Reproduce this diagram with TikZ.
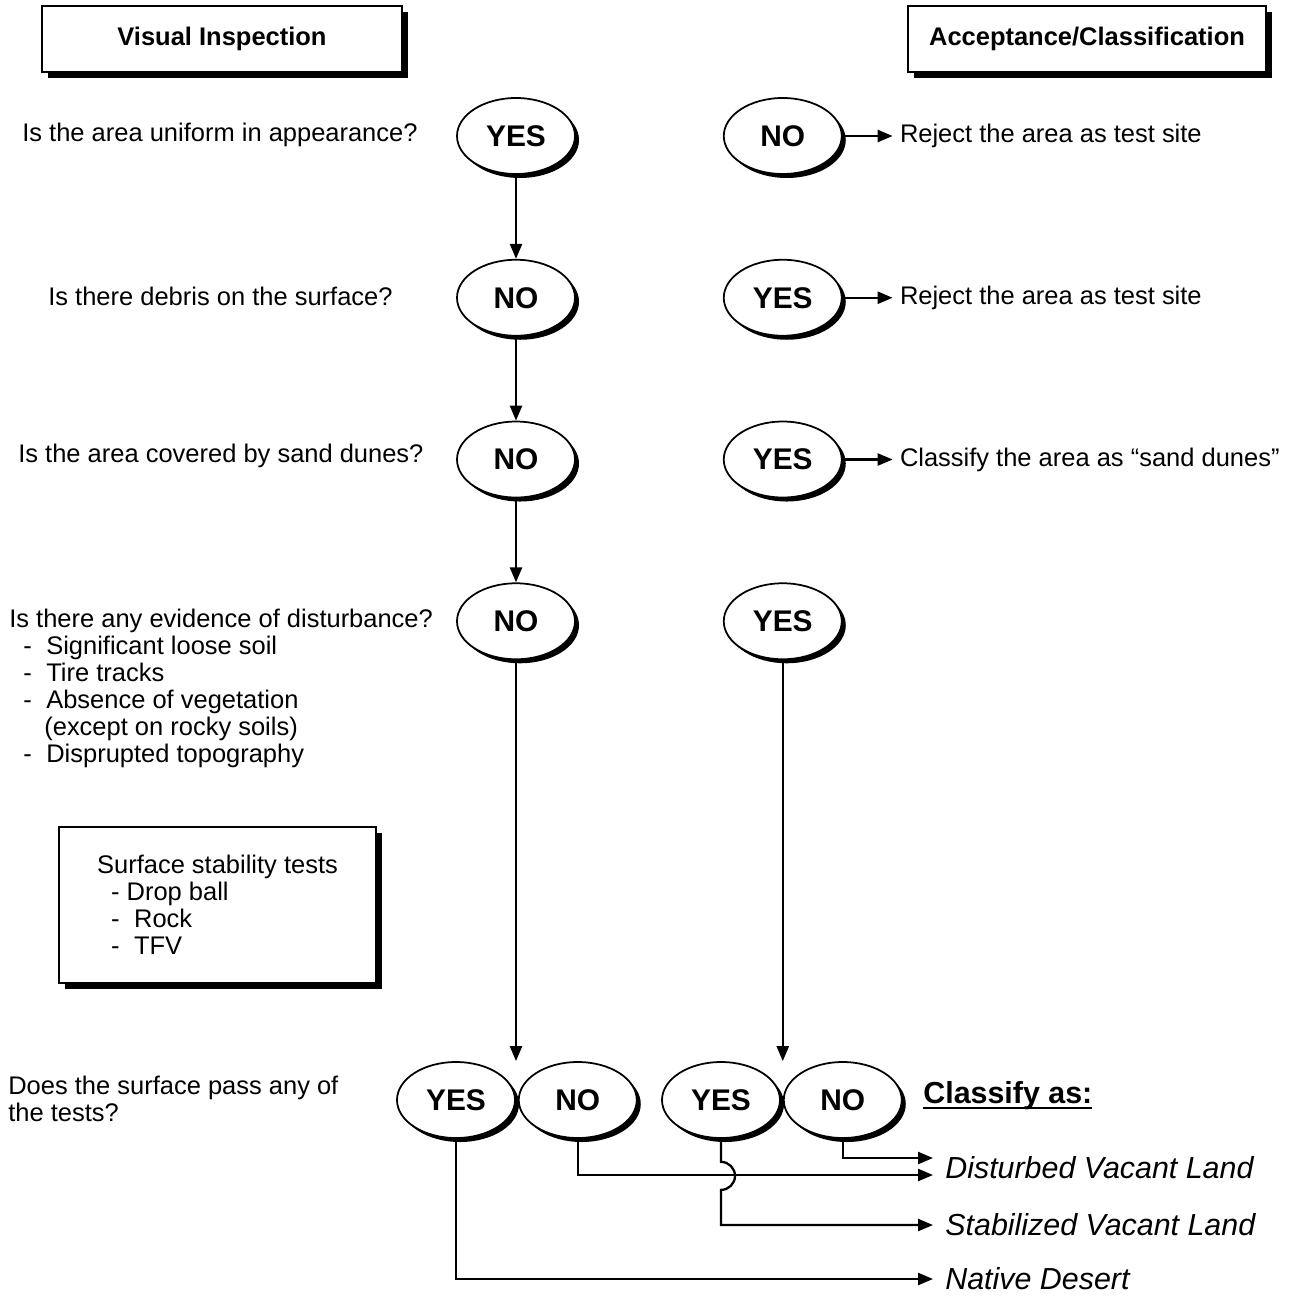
\documentclass[tikz,border=0pt]{standalone}
\usepackage{fontspec}
\setmainfont{Liberation Sans}
\usetikzlibrary{shapes,arrows,arrows.meta,positioning,calc,shadows}

\newcommand{\classul}[1]{\setbox0\hbox{#1}\rlap{\rule[-0.16em]{\wd0}{0.065em}}\box0}

\begin{document}
\begin{tikzpicture}[
    every node/.style={font=\fontsize{14.5}{15.4}\selectfont, inner sep=0pt},
    header/.style={rectangle, draw=black, line width=1.1pt, minimum height=1.32cm, fill=white, font=\fontsize{14.5}{15.4}\selectfont\bfseries, drop shadow={shadow xshift=0.12cm, shadow yshift=-0.12cm, opacity=1, fill=black}},
    answer/.style={ellipse, draw=black, line width=1pt, minimum width=2.36cm, minimum height=1.52cm, fill=white, font=\fontsize{17}{18}\selectfont\bfseries, drop shadow={shadow xshift=0.08cm, shadow yshift=-0.08cm, opacity=1, fill=black}},
    result/.style={inner xsep=0.14cm},
    landuse/.style={inner xsep=0.24cm, font=\fontsize{17.3}{18}\selectfont\itshape},
    arrow/.style={line width=1.3pt,->,>={Triangle[length=0.3cm,width=0.24cm]}}
]
\useasboundingbox (0,0) rectangle (25.82,-26.02);

\node[header, minimum width=7.2cm] (visual) at (4.44,-0.78) {Visual Inspection};
\node[header, minimum width=7.16cm] (accept) at (21.74,-0.78) {Acceptance/Classification};

% questions
\node[anchor=west] (quniform) at (0.44,-2.7) {Is the area uniform in appearance?};
\node[anchor=west] (qdebris) at (0.96,-5.92) {Is there debris on the surface?};
\node[anchor=west] (qdunes) at (0.36,-9.12) {Is the area covered by sand dunes?};
\node[anchor=north west, align=left] (qdisturb) at (0.18,-12.17) {Is there any evidence of disturbance?\\
\hspace*{0.28cm}-\hspace*{0.29cm}Significant loose soil\\
\hspace*{0.28cm}-\hspace*{0.29cm}Tire tracks\\
\hspace*{0.28cm}-\hspace*{0.29cm}Absence of vegetation\\
\hspace*{0.7cm}(except on rocky soils)\\
\hspace*{0.28cm}-\hspace*{0.29cm}Disprupted topography};
\node[header, font=\fontsize{14.5}{15.4}\selectfont, minimum width=6.34cm, minimum height=3.12cm, align=left] (tests) at (4.35,-18.1) {Surface stability tests\\
\hspace*{0.28cm}- Drop ball\\
\hspace*{0.28cm}-\hspace*{0.29cm}Rock\\
\hspace*{0.28cm}-\hspace*{0.29cm}TFV};
\node[anchor=west, align=left] (qpass) at (0.16,-21.98) {Does the surface pass any of\\the tests?};

% answers
\node[answer] (uniyes) at (10.32,-2.72) {YES};
\node[answer, below=1.68cm of uniyes] (debrisno) {NO};
\node[answer, below=1.68cm of debrisno] (duneno) {NO};
\node[answer, below=1.68cm of duneno] (disturbno) {NO};
\node[answer, right=2.94cm of uniyes] (unino) {NO};
\node[answer, right=2.94cm of debrisno] (debrisyes) {YES};
\node[answer, right=2.94cm of duneno] (duneyes) {YES};
\node[answer, right=2.94cm of disturbno] (disturbyes) {YES};

\node[result, right=1cm of unino] (rejectuni) {Reject the area as test site};
\node[result, right=1cm of debrisyes] (rejectdebris) {Reject the area as test site};
\node[result, right=1cm of duneyes] (dunes) {Classify the area as “sand dunes”};

% tests
\node[answer] (passyes) at (9.12,-22.0) {YES};
\node[answer, right=0.04cm of passyes] (passno) {NO};
\node[answer] (dpassyes) at (14.42,-22.0) {YES};
\node[answer, right=0.04cm of dpassyes] (dpassno) {NO};
\coordinate (passtop) at (disturbno |- passyes.north);
\coordinate (dpasstop) at (disturbyes |- dpassyes.north);

\node[anchor=west, font=\fontsize{17.3}{18}\selectfont\bfseries] (classify) at (18.46,-21.92) {\classul{Classify as:}};
\node[landuse, anchor=west] (disturbed) at (18.66,-23.36) {Disturbed Vacant Land};
\node[landuse, anchor=west] (stabilized) at (18.66,-24.5) {Stabilized Vacant Land};
\node[landuse, anchor=west] (native) at (18.66,-25.58) {Native Desert};

\draw[arrow] (uniyes) -- (debrisno);
\draw[arrow] (debrisno) -- (duneno);
\draw[arrow] (duneno) -- (disturbno);
\draw[arrow] (disturbno) -- (passtop);
\draw[arrow] (disturbyes) -- (dpasstop);
\draw[arrow] (unino) -- (rejectuni);
\draw[arrow] (debrisyes) -- (rejectdebris);
\draw[arrow] (duneyes) -- (dunes);

\draw[arrow] (dpassno.south) |- ([yshift=0.2cm]disturbed.west);
\draw[arrow] (passno.south) |- ([yshift=-0.14cm]disturbed.west);
\draw[arrow] (dpassyes.south) -- ++(0,-0.46) arc[start angle=90, end angle=-90, radius=0.28cm] |- (stabilized.west);
\draw[arrow] (passyes.south) |- (native.west);
\end{tikzpicture}
\end{document}
